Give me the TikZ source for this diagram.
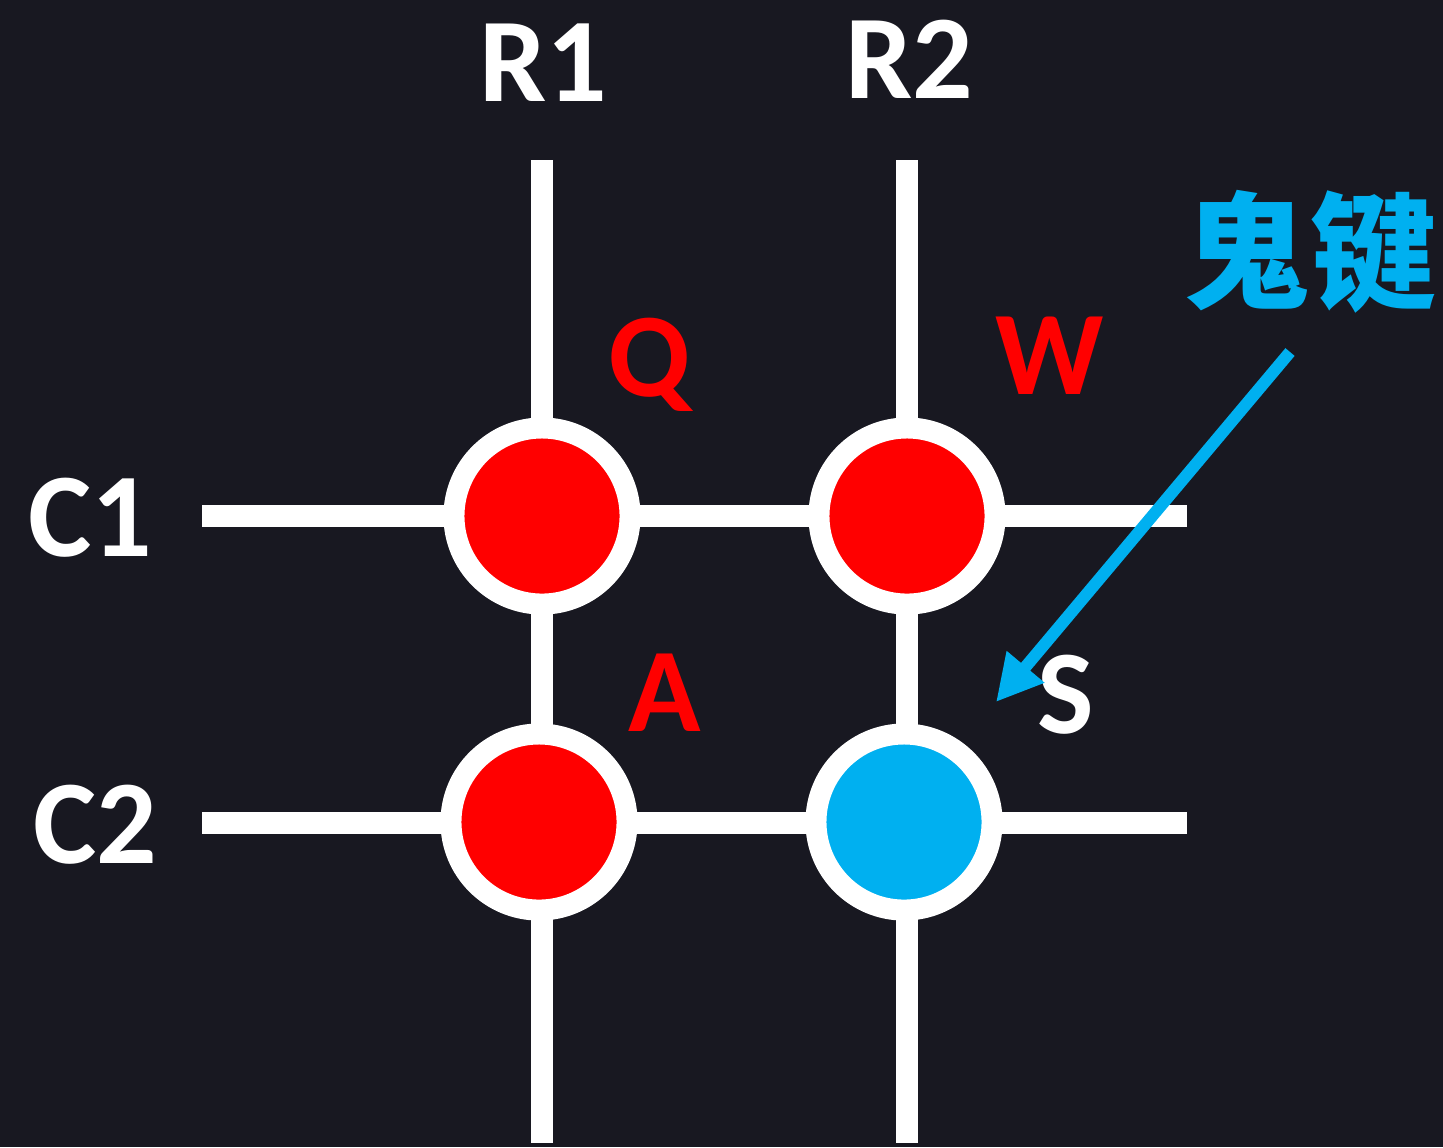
\documentclass[tikz,border=0pt]{standalone}
\usepackage{fontspec}
\setmainfont{Carlito}
\newfontfamily\cjk{Noto Sans CJK SC}
\usetikzlibrary{arrows.meta}
\definecolor{bgdark}{HTML}{181821}
\definecolor{keyred}{HTML}{FF0000}
\definecolor{ghostblue}{HTML}{00B0F0}
\begin{document}
\begin{tikzpicture}[x=0.01cm,y=-0.01cm,
  wire/.style={draw=white,line width=0.22cm},
  keynode/.style={circle,draw=white,line width=0.21cm,minimum size=1.76cm,inner sep=0pt},
  pinlabel/.style={text=white,font=\fontsize{34}{36}\selectfont\bfseries,anchor=base,inner sep=0pt},
  keylabel/.style={font=\fontsize{34}{36}\selectfont\bfseries,anchor=base,inner sep=0pt}]
  % background
  \fill[bgdark] (0,0) rectangle (1443,1147);
  \useasboundingbox (0,0) rectangle (1443,1147);

  % wire end points
  \coordinate (r1top) at (542,160);
  \coordinate (r1bot) at (542,1143);
  \coordinate (r2top) at (907,160);
  \coordinate (r2bot) at (907,1143);
  \coordinate (c1left) at (202,516);
  \coordinate (c1right) at (1187,516);
  \coordinate (c2left) at (202,823);
  \coordinate (c2right) at (1187,823);

  % matrix wires
  \draw[wire] (r1top) -- (r1bot);
  \draw[wire] (r2top) -- (r2bot);
  \draw[wire] (c1left) -- (c1right);
  \draw[wire] (c2left) -- (c2right);

  % keys at the crossings
  \node[keynode,fill=keyred] (kq) at (542,516) {};
  \node[keynode,fill=keyred] (kw) at (907,516) {};
  \node[keynode,fill=keyred] (ka) at (539,822) {};
  \node[keynode,fill=ghostblue] (ks) at (904,822) {};

  % row / column labels
  \node[pinlabel] (lr1) at (543,101) {R1};
  \node[pinlabel] (lr2) at (909,98) {R2};
  \node[pinlabel] (lc1) at (90,556) {C1};
  \node[pinlabel] (lc2) at (95,863) {C2};

  % key labels
  \node[keylabel,text=keyred] (lq) at (650,396) {Q};
  \node[keylabel,text=keyred] (lw) at (1050,394) {W};
  \node[keylabel,text=keyred] (la) at (665,731) {A};
  \node[keylabel,text=white] (ls) at (1066,733) {S};

  % ghost key callout
  \node[text=ghostblue,font=\cjk\fontsize{36}{40}\selectfont\bfseries,inner sep=0pt] (ghost) at (1310,252) {鬼键};
  \coordinate (ghosttail) at (1290,352);
  \coordinate (ghosttip) at (996,702);
  \draw[ghostblue,line width=0.12cm,-{Triangle[length=0.46cm,width=0.46cm]}] (ghosttail) -- (ghosttip);
\end{tikzpicture}
\end{document}
